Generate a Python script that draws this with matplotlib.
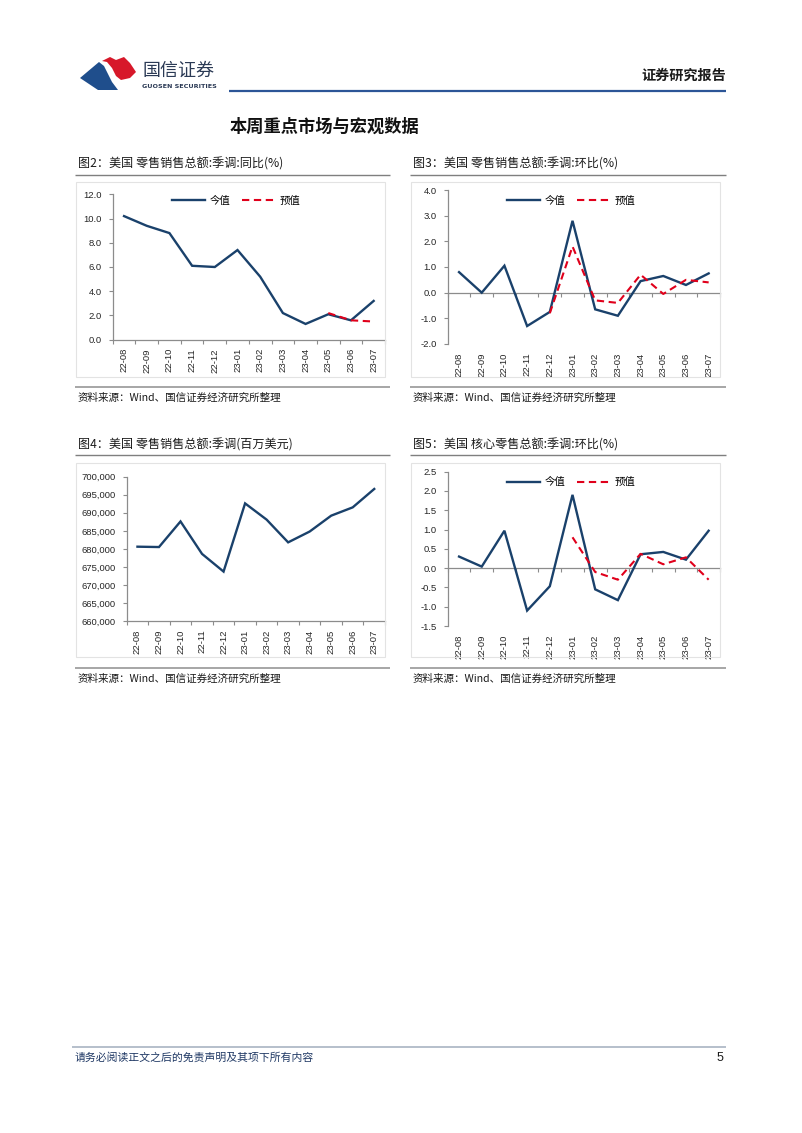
import numpy as np
import matplotlib
matplotlib.use("Agg")
import matplotlib.pyplot as plt
from matplotlib.lines import Line2D
from matplotlib.patches import Polygon, Rectangle
from matplotlib.ticker import FixedLocator, FuncFormatter

plt.rcParams['font.family'] = ['Noto Sans CJK SC', 'DejaVu Sans']

# ---------------- data ----------------
months = ['22-08', '22-09', '22-10', '22-11', '22-12', '23-01',
          '23-02', '23-03', '23-04', '23-05', '23-06', '23-07']
yoy_actual = [10.2, 9.4, 8.8, 6.1, 6.0, 7.4, 5.2, 2.2, 1.3, 2.1, 1.6, 3.2]
yoy_forecast = [None] * 9 + [2.2, 1.6, 1.5]
mom_actual = [0.8, 0.0, 1.05, -1.3, -0.75, 2.8, -0.65, -0.9, 0.45, 0.65, 0.3, 0.75]
mom_forecast = [None] * 4 + [-0.8, 1.8, -0.3, -0.4, 0.7, -0.05, 0.5, 0.4]
level_sa = [680600, 680500, 687600, 678600, 673700, 692600,
            688100, 681800, 684800, 689200, 691500, 696600]
core_actual = [0.3, 0.04, 0.97, -1.1, -0.47, 1.9, -0.55, -0.83, 0.36, 0.42, 0.22, 0.97]
core_forecast = [None] * 5 + [0.8, -0.1, -0.3, 0.37, 0.1, 0.28, -0.3]

legend_labels = ['今值', '预值']
titles = ['图2：美国 零售销售总额:季调:同比(%)',
          '图3：美国 零售销售总额:季调:环比(%)',
          '图4：美国 零售销售总额:季调(百万美元)',
          '图5：美国 核心零售总额:季调:环比(%)']
source = '资料来源：Wind、国信证券经济研究所整理'

NAVY = '#1A416B'
RED = '#E0001B'
AXC = '#8C8C8C'

W, H = 802, 1133
fig = plt.figure(figsize=(W / 100, H / 100), dpi=100)


def fx(x):
    return x / W


def fy(y):
    return 1 - y / H


def hline(x0, x1, y, color, lw):
    fig.add_artist(Line2D([fx(x0), fx(x1)], [fy(y), fy(y)], transform=fig.transFigure,
                          color=color, lw=lw, solid_capstyle='butt'))


def ftext(x, y, s, **kw):
    fig.text(fx(x), fy(y), s, **kw)


# ---------------- header ----------------
blue_logo = [(80, 78), (99, 62), (104, 66), (108, 74), (112, 82), (118, 90), (98, 90)]
red_logo = [(102, 61), (110, 57), (116, 60), (124, 57), (130, 63), (136, 72), (130, 78),
            (121, 80), (116, 76), (112, 68), (107, 62)]
fig.add_artist(Polygon([(fx(a), fy(b)) for a, b in blue_logo], closed=True,
                       transform=fig.transFigure, color='#1F4E8C', lw=0))
fig.add_artist(Polygon([(fx(a), fy(b)) for a, b in red_logo], closed=True,
                       transform=fig.transFigure, color='#D7182A', lw=0))
ftext(142, 71, '国信证券', fontsize=13, color='#2B3A55', va='center', ha='left')
ftext(142, 86.5, 'GUOSEN SECURITIES', fontsize=4.6, color='#2B3A55', va='center',
      ha='left', fontweight='bold', family=['DejaVu Sans'])
ftext(726, 76, '证券研究报告', fontsize=10.2, fontweight='bold', color='#1A1A1A',
      va='center', ha='right')
hline(229, 726, 91, '#2C5597', 1.6)

ftext(230, 127, '本周重点市场与宏观数据', fontsize=12.4, fontweight='bold',
      color='#111111', va='center', ha='left')

# ---------------- charts ----------------
panels = [
    dict(cx0=75, cx1=390, ty=164, tl=174.5, sy=386.5, st=398,
         box=(76, 182, 385, 377), ax=(112.7, 194.3, 385, 339.7),
         ylim=(0, 12), step=2, fmt=lambda v, p: f'{v:.1f}',
         a=yoy_actual, f=yoy_forecast, zero=False, leg=(171.7, 201)),
    dict(cx0=410, cx1=726, ty=164, tl=174.5, sy=386.5, st=398,
         box=(411, 182, 720, 377), ax=(447.7, 190, 720, 344),
         ylim=(-2, 4), step=1, fmt=lambda v, p: f'{v:.1f}',
         a=mom_actual, f=mom_forecast, zero=True, leg=(506.7, 201)),
    dict(cx0=75, cx1=390, ty=445, tl=455.5, sy=667.5, st=679,
         box=(76, 463, 385, 657), ax=(126.7, 476.7, 385, 621),
         ylim=(660000, 700000), step=5000, fmt=lambda v, p: f'{int(v):,}',
         a=level_sa, f=None, zero=False, leg=None),
    dict(cx0=410, cx1=726, ty=445, tl=455.5, sy=667.5, st=679,
         box=(411, 463, 720, 657), ax=(447.7, 471.7, 720, 626),
         ylim=(-1.5, 2.5), step=0.5, fmt=lambda v, p: f'{v:.1f}',
         a=core_actual, f=core_forecast, zero=True, leg=(506.7, 482.3)),
]

x = np.arange(len(months))
TICKFONT = dict(family=['Liberation Sans'], size=6.8)

for i, P in enumerate(panels):
    ftext(P['cx0'] + 3, P['ty'], titles[i], fontsize=8.7, color='#1A1A1A', va='center', ha='left')
    hline(P['cx0'], P['cx1'], P['tl'], '#7F7F7F', 1.0)
    hline(P['cx0'], P['cx1'], P['sy'], '#A6A6A6', 1.4)
    ftext(P['cx0'] + 3, P['st'], source, fontsize=7.6, color='#1A1A1A', va='center', ha='left')
    bl, bt, br, bb = P['box']
    fig.add_artist(Rectangle((fx(bl), fy(bb)), fx(br) - fx(bl), (bb - bt) / H,
                             transform=fig.transFigure, fill=False, ec='#E3E3E3', lw=0.8))

    l, t, r, b = P['ax']
    ax = fig.add_axes([fx(l), fy(b), fx(r) - fx(l), (b - t) / H])
    ax.patch.set_alpha(0)
    a = np.array([np.nan if v is None else v for v in P['a']], dtype=float)
    ax.plot(x, a, color=NAVY, lw=1.7, solid_joinstyle='miter', label=legend_labels[0])
    if P['f'] is not None:
        fvals = np.array([np.nan if v is None else v for v in P['f']], dtype=float)
        ax.plot(x, fvals, color=RED, lw=1.5, ls=(0, (3.5, 2.2)), label=legend_labels[1])

    ax.set_xlim(-0.5, len(months) - 0.5)
    ax.set_ylim(*P['ylim'])
    y0, y1 = P['ylim']
    ax.set_yticks(np.arange(y0, y1 + P['step'] / 2, P['step']))
    ax.yaxis.set_major_formatter(FuncFormatter(P['fmt']))
    ax.set_xticks(x)
    ax.set_xticklabels(months, rotation=90)
    for lab in ax.get_xticklabels() + ax.get_yticklabels():
        lab.set_fontfamily(TICKFONT['family'])
        lab.set_fontsize(TICKFONT['size'])
        lab.set_color('#262626')
    ax.tick_params(axis='y', direction='out', length=3, width=0.8, color=AXC, pad=5)
    ax.tick_params(axis='x', which='major', length=0, pad=6)

    for s in ('top', 'right'):
        ax.spines[s].set_visible(False)
    ax.spines['left'].set_color(AXC)
    ax.spines['left'].set_linewidth(0.9)

    bounds = np.arange(-0.5, len(months), 1.0)
    if P['zero']:
        ax.spines['bottom'].set_visible(False)
        frac = (0 - y0) / (y1 - y0)
        sec = ax.secondary_xaxis(frac)
        sec.set_xticks(bounds)
        sec.tick_params(axis='x', which='major', direction='out', length=3, width=0.8,
                        color=AXC, labelbottom=False, labeltop=False)
        for sp in sec.spines.values():
            sp.set_color(AXC)
            sp.set_linewidth(0.9)
    else:
        ax.spines['bottom'].set_color(AXC)
        ax.spines['bottom'].set_linewidth(0.9)
        ax.xaxis.set_minor_locator(FixedLocator(bounds))
        ax.tick_params(axis='x', which='minor', direction='out', length=3, width=0.8, color=AXC)

    if P['leg'] is not None:
        lx, ly = P['leg']
        ax.legend(loc='center left', bbox_to_anchor=(fx(lx), fy(ly)),
                  bbox_transform=fig.transFigure, ncol=2, frameon=False,
                  fontsize=7.5, handlelength=3.2, handletextpad=0.4,
                  columnspacing=1.2, borderpad=0, borderaxespad=0)

# ---------------- footer ----------------
hline(72, 726, 1047, '#A9B4C2', 1.2)
ftext(75, 1057, '请务必阅读正文之后的免责声明及其项下所有内容', fontsize=7.8,
      color='#1F3864', va='center', ha='left', style='italic')
ftext(723, 1058, '5', fontsize=9, color='#1A1A1A', va='center', ha='right',
      family=['Liberation Sans'])

fig.savefig('out.png', dpi=100)
